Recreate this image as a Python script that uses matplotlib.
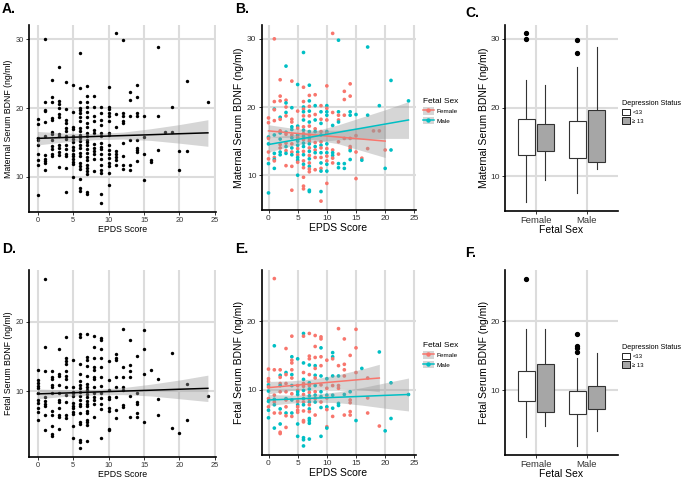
import numpy as np
import matplotlib
matplotlib.use('Agg')
import matplotlib.pyplot as plt
from matplotlib.patches import Patch
from matplotlib.lines import Line2D

plt.rcParams['font.family'] = ['Liberation Sans', 'DejaVu Sans']

# ---- maternal serum BDNF vs EPDS (panels A, B) ----
mat_epds = [
    0, 0, 0, 0, 0, 0, 0, 0, 0,
    1, 1, 1, 1, 1, 1, 1, 1, 1, 1, 1,
    2, 2, 2, 2, 2, 2, 2, 2, 2, 2, 2, 2,
    3, 3, 3, 3, 3, 3, 3, 3, 3, 3, 3, 3, 3,
    4, 4, 4, 4, 4, 4, 4, 4, 4, 4, 4, 4, 4, 4,
    5, 5, 5, 5, 5, 5, 5, 5, 5, 5, 5, 5, 5, 5, 5,
    6, 6, 6, 6, 6, 6, 6, 6, 6, 6, 6, 6, 6, 6, 6, 6, 6, 6, 6, 6, 6, 6, 6,
    7, 7, 7, 7, 7, 7, 7, 7, 7, 7, 7, 7, 7, 7, 7, 7, 7, 7, 7, 7, 7, 7, 7,
    8, 8, 8, 8, 8, 8, 8, 8, 8, 8, 8, 8,
    9, 9, 9, 9, 9, 9, 9, 9, 9, 9, 9, 9, 9, 9, 9, 9,
    10, 10, 10, 10, 10, 10, 10, 10, 10, 10, 10, 10, 10, 10, 10, 10,
    11, 11, 11, 11, 11, 11, 11, 11,
    12, 12, 12, 12, 12, 12, 12, 12, 12,
    13, 13, 13, 13, 13, 13,
    14, 14, 14, 14, 14, 14, 14, 14, 14,
    15, 15, 15, 15,
    16, 16, 17, 17, 17, 18, 19, 19, 20, 20, 21, 21, 24]
mat_bdnf = [
    18.4, 17.7, 15.6, 15.4, 14.6, 13.4, 12.4, 11.7, 7.4,
    30.0, 20.8, 19.7, 19.6, 18.0, 15.9, 13.2, 12.6, 12.3, 12.1, 11.0,
    24.0, 21.6, 20.9, 18.5, 18.2, 16.5, 16.2, 15.3, 14.5, 14.0, 13.4, 13.0,
    26.0, 21.0, 20.6, 20.0, 19.2, 18.7, 16.3, 16.0, 14.7, 14.2, 13.6, 13.2, 11.4,
    23.8, 19.9, 18.2, 17.8, 17.1, 16.7, 15.9, 15.5, 14.6, 14.0, 13.4, 13.0, 11.3, 7.8,
    23.3, 19.4, 17.2, 16.9, 15.9, 15.5, 15.0, 14.4, 13.9, 13.4, 13.0, 12.6, 12.2, 11.9, 10.0,
    28.0, 22.9, 20.8, 20.0, 19.7, 19.3, 18.7, 18.1, 17.1, 16.6, 16.1, 15.7, 15.2, 14.7, 14.2,
    13.5, 13.0, 12.1, 11.6, 11.1, 9.7, 8.4, 8.0,
    23.2, 21.7, 20.9, 20.1, 19.4, 18.7, 17.8, 17.2, 16.4, 15.9, 15.4, 15.0, 14.6, 14.0, 13.5,
    12.9, 12.4, 11.8, 11.3, 10.9, 10.5, 7.8, 7.6,
    21.8, 20.2, 18.9, 18.1, 16.8, 16.4, 14.8, 14.2, 13.7, 13.3, 12.6, 10.8,
    20.2, 19.3, 18.2, 17.6, 16.4, 15.9, 14.9, 14.4, 14.0, 13.3, 12.6, 11.8, 11.0, 10.6, 7.6, 6.2,
    23.1, 20.2, 19.8, 19.3, 18.8, 18.1, 16.4, 16.1, 14.6, 13.9, 13.3, 12.8, 12.1, 11.6, 10.6, 8.8,
    30.8, 19.2, 17.3, 13.7, 13.3, 12.9, 12.5, 11.8,
    29.8, 19.3, 18.8, 18.1, 17.8, 14.9, 13.1, 11.7, 11.1,
    22.3, 21.1, 18.8, 15.4, 11.7, 11.0,
    23.4, 21.6, 19.3, 18.8, 15.4, 14.2, 13.9, 13.6, 12.3,
    18.9, 15.8, 13.4, 9.5,
    12.5, 12.2, 28.8, 18.8, 13.9, 16.5, 20.2, 16.5, 13.7, 11.0, 23.9, 13.7, 20.9]
mat_sex = ("FFMFMFFMM" "FFMFFMMFMFM" "FFFMFFMMFFMM" "MFMFMFMFFMFMF" "FMFFMMFMFMFMFF"
           "MFMFMFMMFMFMMFM" "MFFMFMFMFMFMFMMFMFMFFFF" "MFMFMFMFMFMFMFMFMFMFFMM"
           "FMFMFMFMFMFF" "FMFMFMFMFMFMFMMF" "FMFMMFMFMFMFFMMF" "FFMFMMFF" "MMFFMFFMM"
           "FFFFMM" "FFMMFFFMM" "MFFF" "FM" "MMF" "F" "MF" "FM" "MM" "M")

# ---- fetal serum BDNF vs EPDS (panels D, E) ----
fet_epds = [
    0, 0, 0, 0, 0, 0, 0, 0, 0, 0, 0,
    1, 1, 1, 1, 1, 1, 1, 1, 1,
    2, 2, 2, 2, 2, 2, 2, 2, 2, 2, 2,
    3, 3, 3, 3, 3, 3, 3, 3, 3, 3, 3,
    4, 4, 4, 4, 4, 4, 4, 4, 4, 4, 4, 4,
    5, 5, 5, 5, 5, 5, 5, 5, 5, 5, 5, 5,
    6, 6, 6, 6, 6, 6, 6, 6, 6, 6, 6, 6, 6, 6, 6, 6, 6, 6,
    7, 7, 7, 7, 7, 7, 7, 7, 7, 7, 7, 7, 7, 7, 7, 7, 7, 7, 7,
    8, 8, 8, 8, 8, 8, 8, 8, 8, 8, 8, 8, 8,
    9, 9, 9, 9, 9, 9, 9, 9, 9, 9, 9, 9,
    10, 10, 10, 10, 10, 10, 10, 10, 10,
    11, 11, 11, 11, 11, 11, 11, 11,
    12, 12, 12, 12, 12, 12, 12,
    13, 13, 13, 13, 13, 13,
    14, 14, 14, 14, 14, 14,
    15, 15, 15, 15,
    16, 17, 17, 17, 19, 19, 20, 21, 21, 24]
fet_bdnf = [
    13.0, 11.6, 11.2, 10.7, 10.4, 9.8, 8.7, 8.3, 7.5, 7.0, 5.9,
    26.2, 16.4, 12.9, 9.2, 8.6, 8.2, 7.8, 6.6, 4.4,
    12.9, 12.1, 11.8, 10.9, 10.6, 9.7, 7.2, 6.6, 5.0, 3.8, 3.6,
    16.0, 12.5, 12.2, 10.9, 9.7, 8.7, 8.5, 7.5, 6.6, 6.2, 4.5,
    17.8, 14.8, 14.3, 13.9, 12.9, 12.2, 11.7, 10.6, 9.4, 8.5, 6.6, 6.1,
    14.5, 10.6, 9.9, 9.7, 9.3, 8.3, 7.8, 7.5, 7.0, 6.7, 5.0, 3.2,
    18.2, 17.8, 13.9, 12.5, 11.5, 10.9, 10.5, 9.9, 9.3, 8.7, 8.2, 7.8, 6.9, 5.5, 5.3, 3.0, 2.7, 1.8,
    18.2, 14.9, 14.5, 13.6, 12.2, 11.0, 10.6, 10.1, 9.6, 9.1, 8.6, 8.2, 7.8, 7.2, 6.8, 5.8, 5.5,
    5.1, 2.8,
    17.9, 16.3, 14.7, 13.5, 13.1, 12.1, 11.7, 10.6, 9.7, 9.2, 8.7, 8.2, 6.3,
    17.7, 17.4, 16.1, 14.8, 13.5, 12.0, 10.7, 9.7, 9.0, 8.2, 7.4, 3.2,
    14.3, 11.6, 10.2, 9.2, 8.8, 7.5, 7.1, 4.6, 4.4,
    15.4, 14.8, 14.5, 12.0, 10.6, 9.2, 7.3, 6.1,
    18.9, 13.5, 12.0, 10.6, 10.2, 8.0, 7.7,
    17.4, 13.7, 12.9, 12.0, 9.3, 6.3,
    15.0, 9.7, 8.5, 8.1, 6.8, 6.3,
    18.8, 16.1, 12.5, 5.5,
    13.1, 11.7, 8.8, 6.6, 15.5, 4.7, 4.0, 11.0, 5.8, 9.3]
fet_sex = ("FFFMFMFMFMM" "FMFFMFMFM" "FMFFMFMFMFF" "FMFFFMFFMFF" "FMFFFMFMFMMF"
           "MFFMMFMFFFMM" "MFMFMFFMFMFMFFFMMM" "FFFMFMFMFMFMFMFMMMM" "FFFMFMFMFMFMF"
           "FFMFFMFMMFMM" "FMFMFMFFM" "MMFMFMMF" "FFMFFMM" "FFFFMF" "FMFFFF" "FFFM"
           "M" "FFF" "MF" "M" "MM" "M")

# ---- fitted lm lines with 95% bands ----
fit_x = [0, 4, 8, 12, 16, 20, 24]
matA_fit = [15.6, 15.73, 15.87, 16.0, 16.13, 16.27, 16.4]
matA_hi = [16.6, 16.35, 16.3, 16.5, 17.0, 17.6, 18.3]
matA_lo = [14.65, 15.1, 15.4, 15.5, 15.3, 14.9, 14.45]

fitF_x = [0, 4, 8, 12, 16, 20]
matF_fit = [16.5, 16.2, 15.9, 15.6, 15.3, 15.0]
matF_hi = [17.4, 16.9, 16.6, 16.6, 17.0, 17.4]
matF_lo = [15.6, 15.5, 15.2, 14.6, 13.6, 12.6]
matM_fit = [14.5, 15.1, 15.7, 16.3, 16.9, 17.5, 18.1]
matM_hi = [15.6, 15.9, 16.5, 17.4, 18.5, 19.6, 20.8]
matM_lo = [13.4, 14.3, 14.9, 15.2, 15.3, 15.4, 15.4]

fetD_fit = [9.6, 9.73, 9.87, 10.0, 10.13, 10.27, 10.4]
fetD_hi = [10.3, 10.2, 10.25, 10.5, 11.0, 11.6, 12.3]
fetD_lo = [8.9, 9.25, 9.45, 9.5, 9.3, 8.9, 8.5]

fitEF_x = [0, 4, 8, 12, 16, 19]
fetF_fit = [10.3, 10.6, 10.9, 11.2, 11.5, 11.7]
fetF_hi = [11.2, 11.3, 11.6, 12.2, 13.0, 13.7]
fetF_lo = [9.4, 9.9, 10.2, 10.2, 10.0, 9.7]
fetM_fit = [8.5, 8.63, 8.77, 8.9, 9.03, 9.17, 9.3]
fetM_hi = [9.3, 9.2, 9.35, 9.7, 10.3, 11.0, 11.7]
fetM_lo = [7.7, 8.05, 8.2, 8.1, 7.75, 7.3, 6.9]

# ---- box plot summaries: Female <13, Female >=13, Male <13, Male >=13 ----
sex_labels = ['Female', 'Male']
dep_labels = ['<13', '\u2265 13']
mat_box_med = [15.7, 15.3, 15.1, 18.8]
mat_box_q1 = [13.1, 13.65, 12.7, 12.1]
mat_box_q3 = [18.3, 17.6, 18.0, 19.7]
mat_box_lo = [6.2, 9.5, 7.5, 11.0]
mat_box_hi = [24.0, 23.3, 25.9, 28.8]
mat_box_out = [[30.0, 30.8], [], [28.0, 29.8], []]
fet_box_med = [10.5, 11.8, 8.45, 9.3]
fet_box_q1 = [8.45, 6.8, 6.5, 7.2]
fet_box_q3 = [12.7, 13.8, 9.9, 10.6]
fet_box_lo = [3.1, 4.8, 1.8, 4.1]
fet_box_hi = [18.9, 18.8, 14.7, 15.4]
fet_box_out = [[26.2], [], [15.5, 16.1, 16.4, 18.2], []]

RED = '#F8766D'
TEAL = '#00BFC4'
BAND = '#999999'
W, H = 685, 478

fig = plt.figure(figsize=(W / 100, H / 100), dpi=100)


def add_ax(left, top, right, bottom):
    return fig.add_axes([left / W, 1 - bottom / H, (right - left) / W, (bottom - top) / H])


def style(ax, tick_fs):
    for s in ['top', 'right']:
        ax.spines[s].set_visible(False)
    for s in ['left', 'bottom']:
        ax.spines[s].set_linewidth(1.2)
        ax.spines[s].set_color('black')
    ax.grid(True, color='#DCDCDC', lw=1.5)
    ax.set_axisbelow(True)
    ax.tick_params(length=2.2, width=0.7, color='#333333', labelsize=tick_fs,
                   labelcolor='#333333', pad=1.5)


def scatter_panel(ax, x, y, colors, s, tick_fs, lab_fs, ylab, ylim, yticks):
    ax.scatter(x, y, s=s, c=colors, lw=0, zorder=2)
    ax.set_xlim(-1.2, 25.2)
    ax.set_ylim(*ylim)
    ax.set_xticks([0, 5, 10, 15, 20, 25])
    ax.set_yticks(yticks)
    style(ax, tick_fs)
    ax.set_xlabel('EPDS Score', fontsize=lab_fs, labelpad=1)
    ax.set_ylabel(ylab, fontsize=lab_fs, labelpad=2)


def smooth(ax, xs, fit, lo, hi, color):
    ax.fill_between(xs, lo, hi, color=BAND, alpha=0.4, lw=0, zorder=3)
    ax.plot(xs, fit, color=color, lw=1.1, zorder=4)


def box_panel(ax, med, q1, q3, lo, hi, out, ylab, ylim, yticks):
    stats = []
    for i in range(4):
        stats.append(dict(med=med[i], q1=q1[i], q3=q3[i], whislo=lo[i], whishi=hi[i],
                          fliers=out[i]))
    pos = [1 - 0.1875, 1 + 0.1875, 2 - 0.1875, 2 + 0.1875]
    bp = ax.bxp(stats, positions=pos, widths=0.33, patch_artist=True, showcaps=False,
                boxprops=dict(edgecolor='#333333', lw=0.8),
                whiskerprops=dict(color='#333333', lw=0.8),
                medianprops=dict(color='black', lw=1.3),
                flierprops=dict(marker='o', markersize=2.8, markerfacecolor='black',
                                markeredgecolor='black'))
    for i, b in enumerate(bp['boxes']):
        b.set_facecolor('white' if i % 2 == 0 else '#A6A6A6')
        b.set_zorder(3)
    ax.set_xlim(0.4, 2.6)
    ax.set_ylim(*ylim)
    ax.set_xticks([1, 2])
    ax.set_xticklabels(sex_labels, fontsize=6.8)
    ax.set_yticks(yticks)
    style(ax, 6)
    ax.tick_params(axis='x', labelsize=6.8)
    ax.set_xlabel('Fetal Sex', fontsize=7.5, labelpad=0)
    ax.set_ylabel(ylab, fontsize=7.5, labelpad=1)


def sex_legend(ax, x, y):
    handles = [(Patch(facecolor=BAND, alpha=0.4, lw=0),
                Line2D([], [], color=c, lw=1.1, marker='o', markersize=2.2)) for c in (RED, TEAL)]
    ax.legend(handles, ['Female', 'Male'], title='Fetal Sex', loc='upper left',
              bbox_to_anchor=(x / W, 1 - y / H), bbox_transform=fig.transFigure,
              frameon=False, fontsize=4.6, title_fontsize=6, handlelength=1.7,
              handleheight=1.5, labelspacing=0.3, handletextpad=0.4, borderpad=0,
              borderaxespad=0, alignment='left')


def dep_legend(ax, x, y):
    handles = [Patch(facecolor=f, edgecolor='black', lw=0.6) for f in ('white', '#A6A6A6')]
    ax.legend(handles, dep_labels, title='Depression Status', loc='upper left',
              bbox_to_anchor=(x / W, 1 - y / H), bbox_transform=fig.transFigure,
              frameon=False, fontsize=4.2, title_fontsize=5.2, handlelength=1.3,
              handleheight=1.3, labelspacing=0.35, handletextpad=0.5, borderpad=0,
              borderaxespad=0, alignment='left')


mat_cols = [RED if s == 'F' else TEAL for s in mat_sex]
fet_cols = [RED if s == 'F' else TEAL for s in fet_sex]
mat_lim = (4.97, 32.03)
fet_lim = (0.55, 27.45)

# A
axA = add_ax(29, 25, 216.4, 211.7)
scatter_panel(axA, mat_epds, mat_bdnf, 'black', 6, 5.3, 6.3,
              'Maternal Serum BDNF (ng/ml)', mat_lim, [10, 20, 30])
smooth(axA, fit_x, matA_fit, matA_lo, matA_hi, 'black')

# B
axB = add_ax(261.5, 25, 415.5, 209.5)
scatter_panel(axB, mat_epds, mat_bdnf, mat_cols, 7, 6, 7.5,
              'Maternal Serum BDNF (ng/ml)', mat_lim, [10, 20, 30])
smooth(axB, fitF_x, matF_fit, matF_lo, matF_hi, RED)
smooth(axB, fit_x, matM_fit, matM_lo, matM_hi, TEAL)
sex_legend(axB, 423, 98)

# C
axC = add_ax(505, 25, 617.7, 210.7)
box_panel(axC, mat_box_med, mat_box_q1, mat_box_q3, mat_box_lo, mat_box_hi, mat_box_out,
          'Maternal Serum BDNF (ng/ml)', mat_lim, [10, 20, 30])
dep_legend(axC, 622, 100)

# D
axD = add_ax(29, 270, 216.4, 456.7)
scatter_panel(axD, fet_epds, fet_bdnf, 'black', 6, 5.3, 6.3,
              'Fetal Serum BDNF (ng/ml)', fet_lim, [10, 20])
smooth(axD, fit_x, fetD_fit, fetD_lo, fetD_hi, 'black')

# E
axE = add_ax(261.5, 270, 415.5, 454.5)
scatter_panel(axE, fet_epds, fet_bdnf, fet_cols, 7, 6, 7.5,
              'Fetal Serum BDNF (ng/ml)', fet_lim, [10, 20])
smooth(axE, fitEF_x, fetF_fit, fetF_lo, fetF_hi, RED)
smooth(axE, fit_x, fetM_fit, fetM_lo, fetM_hi, TEAL)
sex_legend(axE, 423, 342)

# F
axF = add_ax(505, 270, 617.7, 455)
box_panel(axF, fet_box_med, fet_box_q1, fet_box_q3, fet_box_lo, fet_box_hi, fet_box_out,
          'Fetal Serum BDNF (ng/ml)', fet_lim, [10, 20])
dep_legend(axF, 622, 344)

# panel letters
for lab, px, py in [('A.', 2, 2), ('B.', 235, 2), ('C.', 465, 6),
                    ('D.', 2, 242), ('E.', 235, 242), ('F.', 465, 246)]:
    fig.text(px / W, 1 - py / H, lab, fontsize=10, fontweight='bold', va='top', ha='left')

fig.savefig('out.png', dpi=100)
